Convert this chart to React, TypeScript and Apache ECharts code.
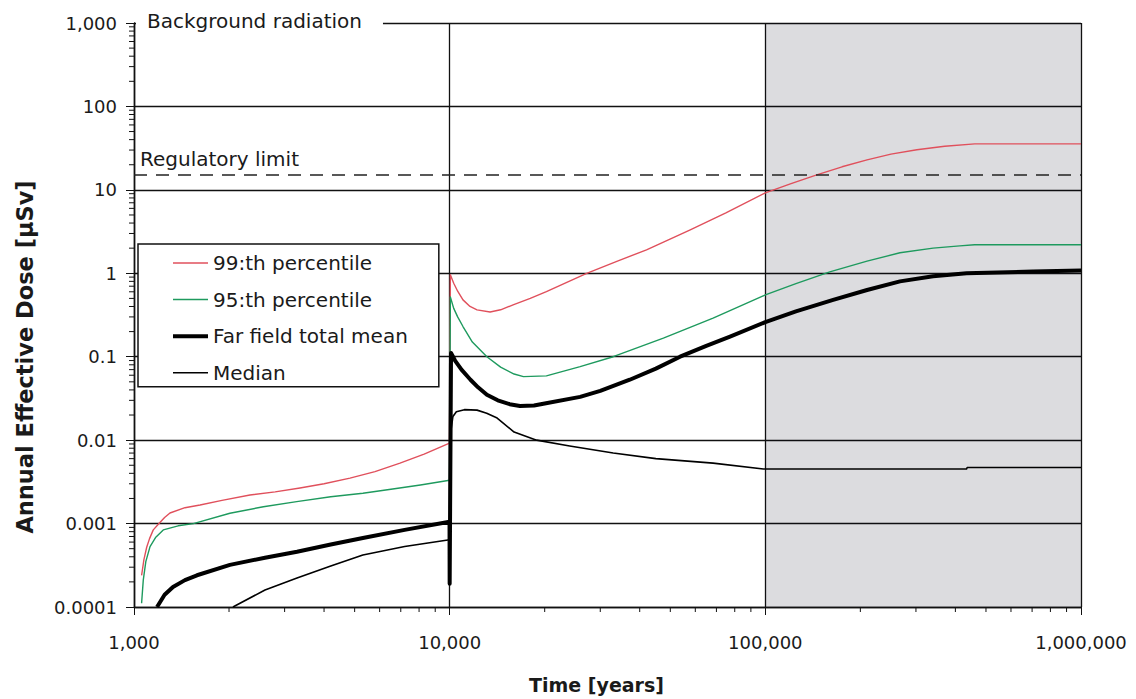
import React, { useEffect, useRef } from 'react';
import * as echarts from 'echarts';

const X_TICK_LABELS = ['1,000', '10,000', '100,000', '1,000,000'];
const Y_TICK_LABELS = ['0.0001', '0.001', '0.01', '0.1', '1', '10', '100', '1,000'];
const MINOR_STEPS = [2, 3, 4, 5, 6, 7, 8, 9];
const X_DECADES = [1000, 10000, 100000];
const Y_DECADES = [0.0001, 0.001, 0.01, 0.1, 1, 10, 100];

const X_MIN = 1000;
const X_MAX = 1000000;
const Y_MIN = 0.0001;
const Y_MAX = 1000;

const REGULATORY_LIMIT = 15;
const SHADED_FROM = 100000;
const SHADED_TO = 1000000;

const SERIES_NAMES = ['99:th percentile', '95:th percentile', 'Far field total mean', 'Median'];

// [time in years, annual effective dose in µSv]
const P99: [number, number][] = [
  [1057, 0.00024], [1075, 0.00037], [1097, 0.00052], [1120, 0.00066], [1151, 0.00084],
  [1200, 0.001], [1250, 0.00118], [1300, 0.00134], [1450, 0.00155], [1619, 0.00167],
  [1900, 0.0019], [2330, 0.0022], [2800, 0.0024], [3356, 0.00267], [4000, 0.003],
  [4833, 0.0035], [5800, 0.0042], [6961, 0.0053], [8300, 0.0068], [9990, 0.0092],
  [10050, 0.96], [10300, 0.76], [10600, 0.61], [11020, 0.48], [11600, 0.4],
  [12210, 0.364], [13430, 0.343], [14500, 0.365], [15880, 0.418], [18000, 0.5],
  [20250, 0.604], [23500, 0.78], [27170, 1.0], [34000, 1.4], [42030, 1.91],
  [57600, 3.3], [75000, 5.3], [100000, 9.2], [120000, 11.8], [145500, 15.1],
  [175000, 18.9], [210000, 22.9], [250000, 26.8], [302000, 30.2], [370000, 33.3],
  [461000, 35.6], [1000000, 35.6],
];

const P95: [number, number][] = [
  [1057, 0.000111], [1070, 0.00021], [1090, 0.00035], [1124, 0.00053], [1170, 0.00068],
  [1238, 0.00084], [1380, 0.00094], [1542, 0.001], [2013, 0.00133], [2570, 0.00159],
  [3276, 0.00183], [4200, 0.0021], [5310, 0.00231], [6600, 0.0026], [8080, 0.0029],
  [9990, 0.0033], [10050, 0.52], [10300, 0.38], [10600, 0.3], [11020, 0.23],
  [11800, 0.15], [13120, 0.1], [14500, 0.075], [16000, 0.062], [17130, 0.0577],
  [20250, 0.059], [25900, 0.076], [32970, 0.1], [47530, 0.167], [68300, 0.29],
  [100000, 0.55], [125000, 0.75], [160000, 1.04], [210000, 1.4], [267000, 1.76],
  [340000, 2.0], [413000, 2.13], [460000, 2.2], [1000000, 2.2],
];

const MEAN: [number, number][] = [
  [1183, 0.0001], [1250, 0.00014], [1329, 0.000174], [1450, 0.00021], [1583, 0.00024],
  [2013, 0.00032], [2600, 0.00039], [3284, 0.00046], [4200, 0.00056], [5310, 0.00067],
  [7200, 0.00084], [9990, 0.00105], [10000, 0.00019], [10100, 0.111], [10400, 0.09],
  [10900, 0.07], [11640, 0.053], [12300, 0.043], [13120, 0.035], [14200, 0.03],
  [15490, 0.027], [16700, 0.0257], [18500, 0.026], [20000, 0.0275], [25900, 0.033],
  [30000, 0.039], [37200, 0.053], [45000, 0.072], [53700, 0.1], [65000, 0.135],
  [77300, 0.174], [100000, 0.26], [125000, 0.35], [164000, 0.48], [210000, 0.63],
  [267000, 0.8], [340000, 0.92], [434000, 1.0], [705000, 1.05], [1000000, 1.08],
];

const MEDIAN: [number, number][] = [
  [2058, 0.0001], [2600, 0.00016], [3284, 0.000223], [4200, 0.00031], [5310, 0.00042],
  [7200, 0.00053], [9990, 0.00064], [10010, 0.0002], [10100, 0.0133], [10240, 0.0192],
  [10500, 0.0219], [11130, 0.0232], [12210, 0.0229], [13100, 0.021], [14140, 0.0184],
  [16000, 0.0125], [18860, 0.01], [24000, 0.0085], [32970, 0.007], [45000, 0.006],
  [68300, 0.0053], [98600, 0.0045], [434000, 0.0045], [436000, 0.0047], [1000000, 0.0047],
];

const COLOR_P99 = '#e0505c';
const COLOR_P95 = '#1e9a5e';
const FONT = 'DejaVu Sans';

const THIN_ICON = 'path://M0,0H35V1.5H0Z';
const THICK_ICON = 'path://M0,0H35V4H0Z';

const Y_MINOR: [number, number][] = [];
Y_DECADES.forEach((d) => MINOR_STEPS.forEach((m) => Y_MINOR.push([X_MIN, d * m])));
const X_MINOR: [number, number][] = [];
X_DECADES.forEach((d) => MINOR_STEPS.forEach((m) => X_MINOR.push([d * m, Y_MIN])));

function curve(name: string, data: [number, number][], color: string, width: number, z: number) {
  return {
    name,
    type: 'line',
    data,
    symbol: 'none',
    color,
    lineStyle: { color, width, join: 'round' },
    z,
  };
}

export default function App() {
  const ref = useRef<HTMLDivElement>(null);
  useEffect(() => {
    if (!ref.current) return;
    const chart = echarts.init(ref.current, null, { renderer: 'svg' });
    const option: any = {
      animation: false,
      backgroundColor: '#ffffff',
      textStyle: { fontFamily: FONT },
      grid: { left: 134, right: 55, top: 23, bottom: 92 },
      legend: {
        orient: 'vertical',
        left: 138,
        top: 244,
        padding: [9, 31, 4, 35],
        itemWidth: 35,
        itemHeight: 20,
        itemGap: 16.6,
        itemTextGap: 4,
        backgroundColor: '#ffffff',
        borderColor: '#111',
        borderWidth: 1.5,
        borderRadius: 0,
        textStyle: { fontFamily: FONT, fontSize: 20, color: '#1a1a1a' },
        data: [
          { name: SERIES_NAMES[0], icon: THIN_ICON },
          { name: SERIES_NAMES[1], icon: THIN_ICON },
          { name: SERIES_NAMES[2], icon: THICK_ICON },
          { name: SERIES_NAMES[3], icon: THIN_ICON },
        ],
      },
      xAxis: {
        type: 'log',
        logBase: 10,
        min: X_MIN,
        max: X_MAX,
        splitNumber: 3,
        name: 'Time [years]',
        nameLocation: 'middle',
        nameGap: 68,
        nameTextStyle: { fontFamily: FONT, fontSize: 19, fontWeight: 'bold', color: '#1a1a1a', padding: [0, 22, 0, 0] },
        axisLine: { show: true, lineStyle: { color: '#111', width: 1.3 } },
        axisTick: { show: true, length: 8, lineStyle: { color: '#111', width: 1 } },
        axisLabel: {
          margin: 26,
          fontFamily: FONT,
          fontSize: 18,
          color: '#1a1a1a',
          formatter: (v: number) => X_TICK_LABELS[Math.round(Math.log10(v)) - 3] ?? '',
        },
        splitLine: { show: true, lineStyle: { color: '#111', width: 1.3 } },
      },
      yAxis: {
        type: 'log',
        logBase: 10,
        min: Y_MIN,
        max: Y_MAX,
        splitNumber: 7,
        name: 'Annual Effective Dose [µSv]',
        nameLocation: 'middle',
        nameGap: 98,
        nameTextStyle: { fontFamily: FONT, fontSize: 22.5, fontWeight: 'bold', color: '#1a1a1a', padding: [0, 84, 0, 0] },
        axisLine: { show: true, lineStyle: { color: '#111', width: 1.3 } },
        axisTick: { show: true, length: 8, lineStyle: { color: '#111', width: 1 } },
        axisLabel: {
          margin: 17,
          fontFamily: FONT,
          fontSize: 18,
          color: '#1a1a1a',
          formatter: (v: number) => Y_TICK_LABELS[Math.round(Math.log10(v)) + 4] ?? '',
        },
        splitLine: { show: true, lineStyle: { color: '#111', width: 1.3 } },
      },
      graphic: [
        {
          type: 'text',
          left: 136,
          top: 9,
          z: 10,
          style: {
            text: 'Background radiation',
            font: `20px "${FONT}"`,
            fill: '#1a1a1a',
            backgroundColor: '#ffffff',
            padding: [2, 21, 2, 11],
          },
        },
      ],
      series: [
        {
          name: 'shaded',
          type: 'line',
          z: 1,
          data: [],
          silent: true,
          markArea: {
            silent: true,
            itemStyle: { color: 'rgba(0,0,20,0.137)' },
            data: [[{ xAxis: SHADED_FROM }, { xAxis: SHADED_TO }]],
          },
          markLine: {
            silent: true,
            symbol: 'none',
            lineStyle: { color: '#222', width: 1.5, type: [13, 9] },
            label: {
              show: true,
              position: 'insideStartTop',
              formatter: 'Regulatory limit',
              fontFamily: FONT,
              fontSize: 20,
              color: '#1a1a1a',
              distance: [6, 6],
            },
            data: [{ yAxis: REGULATORY_LIMIT }],
          },
        },
        curve(SERIES_NAMES[0], P99, COLOR_P99, 1.4, 3),
        curve(SERIES_NAMES[1], P95, COLOR_P95, 1.4, 3),
        curve(SERIES_NAMES[2], MEAN, '#000000', 4, 4),
        curve(SERIES_NAMES[3], MEDIAN, '#000000', 1.6, 3),
        {
          name: 'y minor ticks',
          type: 'custom',
          silent: true,
          clip: false,
          data: Y_MINOR,
          renderItem: (params: any, api: any) => {
            const p = api.coord([api.value(0), api.value(1)]);
            return {
              type: 'line',
              shape: { x1: p[0] - 5, y1: p[1], x2: p[0], y2: p[1] },
              style: { stroke: '#111', lineWidth: 1 },
            };
          },
        },
        {
          name: 'x minor ticks',
          type: 'custom',
          silent: true,
          clip: false,
          data: X_MINOR,
          renderItem: (params: any, api: any) => {
            const p = api.coord([api.value(0), api.value(1)]);
            return {
              type: 'line',
              shape: { x1: p[0], y1: p[1], x2: p[0], y2: p[1] + 5 },
              style: { stroke: '#111', lineWidth: 1 },
            };
          },
        },
      ],
    };
    chart.setOption(option);
    return () => chart.dispose();
  }, []);
  return (
    <div
      ref={ref}
      style={{ position: 'fixed', left: 0, top: 0, width: 1136, height: 699, background: '#fff' }}
    />
  );
}
